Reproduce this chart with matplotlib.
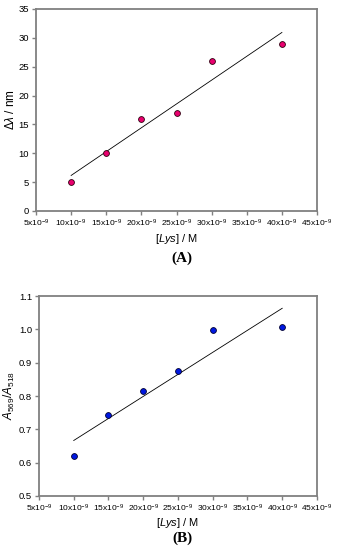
import numpy as np
import matplotlib
matplotlib.use('Agg')
import matplotlib.pyplot as plt

plt.rcParams['font.family'] = 'Liberation Sans'
plt.rcParams['mathtext.fontset'] = 'custom'
plt.rcParams['mathtext.rm'] = 'Liberation Sans'
plt.rcParams['mathtext.it'] = 'Liberation Sans:italic'
plt.rcParams['mathtext.bf'] = 'Liberation Sans:bold'

# concentrations (x 1e-9 M)
lys = [10, 15, 20, 25, 30, 40]
shift_nm = [5, 10, 16, 17, 26, 29]
ratio = [0.62, 0.742, 0.815, 0.876, 0.998, 1.006]

xticks = [5, 10, 15, 20, 25, 30, 35, 40, 45]
xticklabels = [f'{v}x10$^{{\\mathrm{{-9}}}}$' for v in xticks]

gray = '#808080'


def style_axes(ax):
    for s in ax.spines.values():
        s.set_color(gray)
        s.set_linewidth(1.3)
    ax.tick_params(direction='out', length=3, width=1, color=gray,
                   labelsize=6.8, pad=2)
    ax.tick_params(axis='x', labelsize=6.0)
    ax.set_xlim(5, 45)
    ax.set_xticks(xticks)
    ax.set_xticklabels(xticklabels)


fig = plt.figure(figsize=(3.39, 5.5), dpi=100)

# panel A
ax1 = fig.add_axes([0.1062, 0.6164, 0.829, 0.3673])
style_axes(ax1)
k1 = np.polyfit(lys, shift_nm, 1)
xl = np.array([lys[0], lys[-1]])
ax1.plot(xl, np.polyval(k1, xl), color='black', lw=0.6)
ax1.plot(lys, shift_nm, 'o', ms=4.2, mfc='#e8006e', mec='#300010', mew=0.6)
ax1.set_ylim(0, 35)
ax1.set_yticks(range(0, 36, 5))
ax1.set_ylabel(r'$\mathit{\Delta\lambda}$ / nm', fontsize=8.5, labelpad=1)
ax1.set_xlabel(r'$\mathit{[Lys]}$ / M', fontsize=8, labelpad=2)
fig.text(0.537, 0.531, '(A)', ha='center', va='center', fontsize=11,
         fontweight='bold', family='Liberation Serif')

# panel B
ax2 = fig.add_axes([0.115, 0.0982, 0.820, 0.3636])
style_axes(ax2)
k2 = np.polyfit(lys, ratio, 1)
ax2.plot(xl, np.polyval(k2, xl), color='black', lw=0.6)
ax2.plot(lys, ratio, 'o', ms=4.2, mfc='#0018e0', mec='#000030', mew=0.6)
ax2.set_ylim(0.5, 1.1)
ax2.set_yticks(np.arange(0.5, 1.101, 0.1))
ax2.set_yticklabels([f'{v:.1f}' for v in np.arange(0.5, 1.101, 0.1)])
ax2.set_ylabel(r'$\mathit{A_{569}/A_{518}}$', fontsize=8.5, labelpad=1)
ax2.set_xlabel(r'$\mathit{[Lys]}$ / M', fontsize=8, labelpad=1)
fig.text(0.537, 0.022, '(B)', ha='center', va='center', fontsize=11,
         fontweight='bold', family='Liberation Serif')

fig.savefig('out.png', dpi=100)
